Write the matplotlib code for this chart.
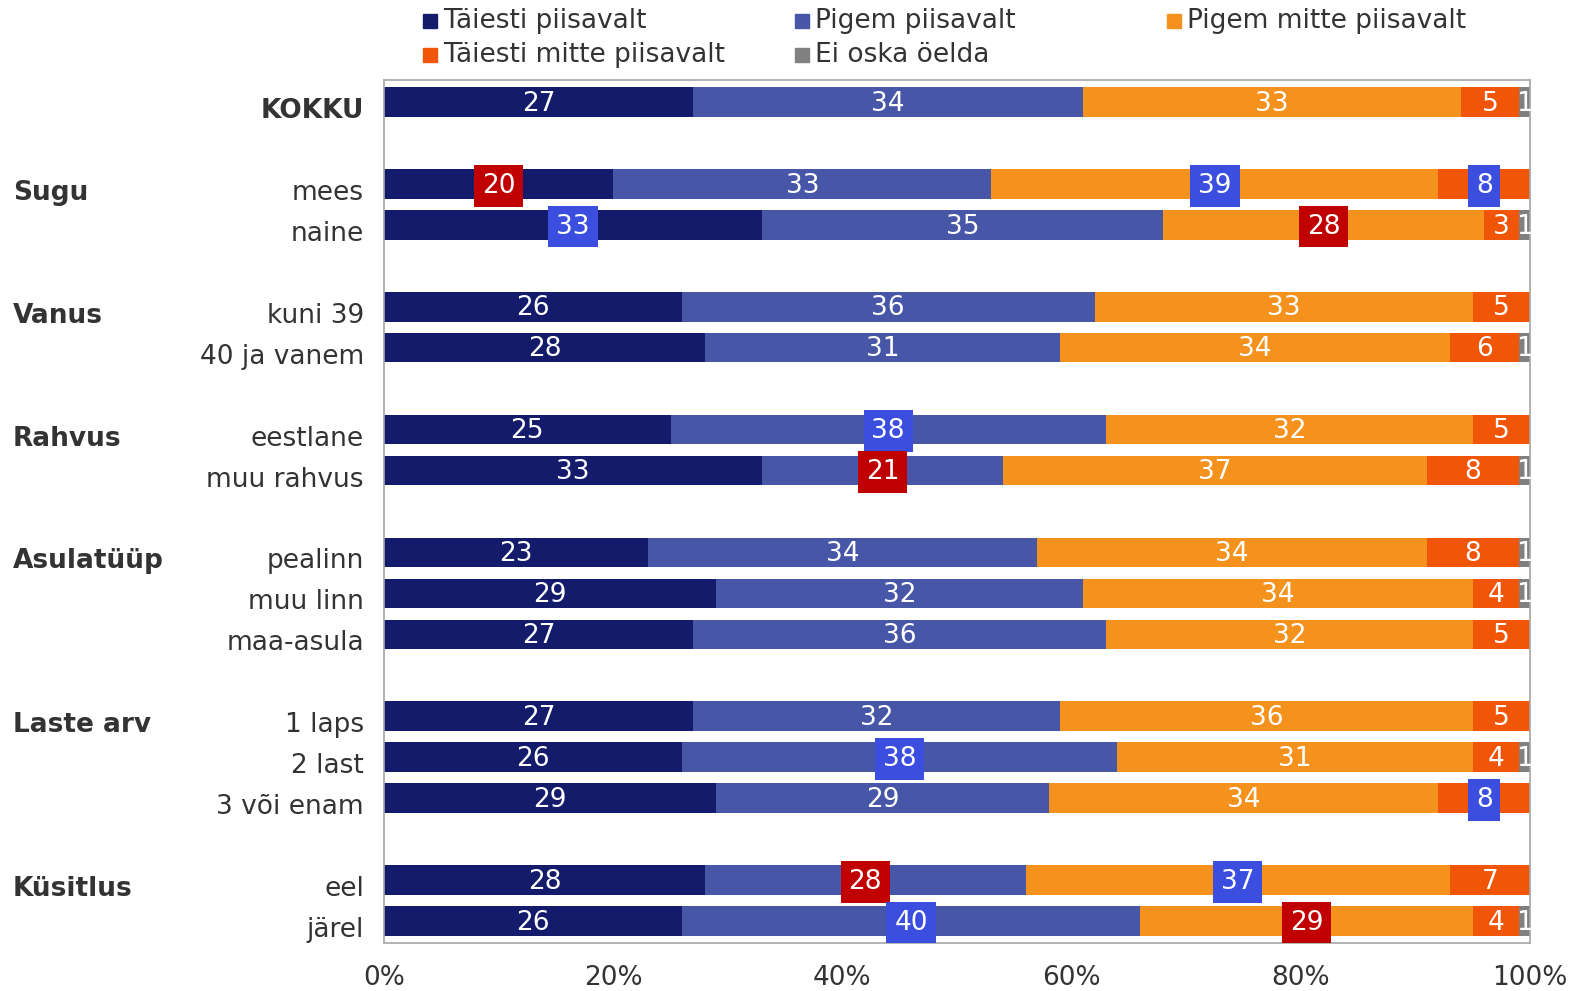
import matplotlib.pyplot as plt
from matplotlib.patches import Rectangle
from matplotlib import transforms
import numpy as np

series = ["Täiesti piisavalt", "Pigem piisavalt", "Pigem mitte piisavalt",
          "Täiesti mitte piisavalt", "Ei oska öelda"]
colors = ["#141b6b", "#4856a8", "#f5921e", "#f05508", "#808080"]

groups = ["", "Sugu", "Vanus", "Rahvus", "Asulatüüp", "Laste arv", "Küsitlus"]
group_rows = [
    ["KOKKU"],
    ["mees", "naine"],
    ["kuni 39", "40 ja vanem"],
    ["eestlane", "muu rahvus"],
    ["pealinn", "muu linn", "maa-asula"],
    ["1 laps", "2 last", "3 või enam"],
    ["eel", "järel"],
]

taiesti = [27, 20, 33, 26, 28, 25, 33, 23, 29, 27, 27, 26, 29, 28, 26]
pigem = [34, 33, 35, 36, 31, 38, 21, 34, 32, 36, 32, 38, 29, 28, 40]
pigem_mitte = [33, 39, 28, 33, 34, 32, 37, 34, 34, 32, 36, 31, 34, 37, 29]
taiesti_mitte = [5, 8, 3, 5, 6, 5, 8, 8, 4, 5, 5, 4, 8, 7, 4]
ei_oska = [1, 0, 1, 0, 1, 0, 1, 1, 1, 0, 0, 1, 0, 0, 1]

# significant differences: (row, series) -> "r" lower / "b" higher
highlights = {
    (1, 0): "r", (1, 2): "b", (1, 3): "b",
    (2, 0): "b", (2, 2): "r",
    (5, 1): "b",
    (6, 1): "r",
    (11, 1): "b",
    (12, 3): "b",
    (13, 1): "r", (13, 2): "b",
    (14, 1): "b", (14, 2): "r",
}
hl_colors = {"r": "#c00000", "b": "#3b4ee0"}

plt.rcParams["font.family"] = "DejaVu Sans"
text_col = "#333333"
fs = 19

fig = plt.figure(figsize=(15.81, 9.91), dpi=100)
ax = fig.add_axes([384 / 1581, 1 - 943 / 991, (1530 - 384) / 1581, (943 - 80) / 991])

# slot positions with a blank row between groups
labels, ypos, group_pos = [], [], []
pos = 0
for g, rows in zip(groups, group_rows):
    group_pos.append(pos)
    for r in rows:
        labels.append(r)
        ypos.append(pos)
        pos += 1
    pos += 1
ypos = np.array(ypos)

data = np.array([taiesti, pigem, pigem_mitte, taiesti_mitte, ei_oska], dtype=float)
left = np.zeros(len(labels))
for k, (name, col) in enumerate(zip(series, colors)):
    vals = data[k]
    ax.barh(ypos, vals, left=left, height=0.72, color=col, label=name)
    for i, v in enumerate(vals):
        if v <= 0:
            continue
        cx = left[i] + v / 2
        kw = {}
        if (i, k) in highlights:
            kw["bbox"] = dict(boxstyle="square,pad=0.3",
                              fc=hl_colors[highlights[(i, k)]], ec="none")
        ax.text(cx, ypos[i] + 0.04, f"{v:.0f}", ha="center", va="center",
                color="white", fontsize=fs, **kw)
    left += vals

ax.set_xlim(0, 100)
ax.set_ylim(ypos[-1] + 0.54, -0.54)
ax.set_xticks(np.arange(0, 101, 20))
ax.set_xticklabels([f"{t}%" for t in range(0, 101, 20)], fontsize=fs, color=text_col)
ax.set_yticks([])
ax.tick_params(length=0, pad=16, axis="x")
for s in ax.spines.values():
    s.set_color("#a6a6a6")
    s.set_linewidth(1.2)

# row labels (slightly below bar centre, as in the original)
lab_tr = transforms.blended_transform_factory(fig.transFigure, ax.transData)
for i, (lab, y) in enumerate(zip(labels, ypos)):
    ax.text(364 / 1581, y + 0.22, lab, transform=lab_tr, ha="right", va="center",
            fontsize=fs, color=text_col, fontweight="bold" if i == 0 else "normal",
            clip_on=False)
for g, p in zip(groups, group_pos):
    if g:
        ax.text(13 / 1581, p + 0.22, g, transform=lab_tr, ha="left", va="center",
                fontsize=fs, fontweight="bold", color=text_col, clip_on=False)

# legend, row-wise as in the original
leg_x = [423, 795, 1167]
leg_y = [21, 55]
for k, (name, col) in enumerate(zip(series, colors)):
    r, c = divmod(k, 3)
    x = leg_x[c] / 1581
    y = 1 - leg_y[r] / 991
    fig.patches.append(Rectangle((x, y - 7 / 991), 14 / 1581, 14 / 991,
                                 transform=fig.transFigure, color=col))
    fig.text(x + 20 / 1581, y, name, ha="left", va="center", fontsize=fs, color=text_col)

fig.savefig("out.png", dpi=100)
